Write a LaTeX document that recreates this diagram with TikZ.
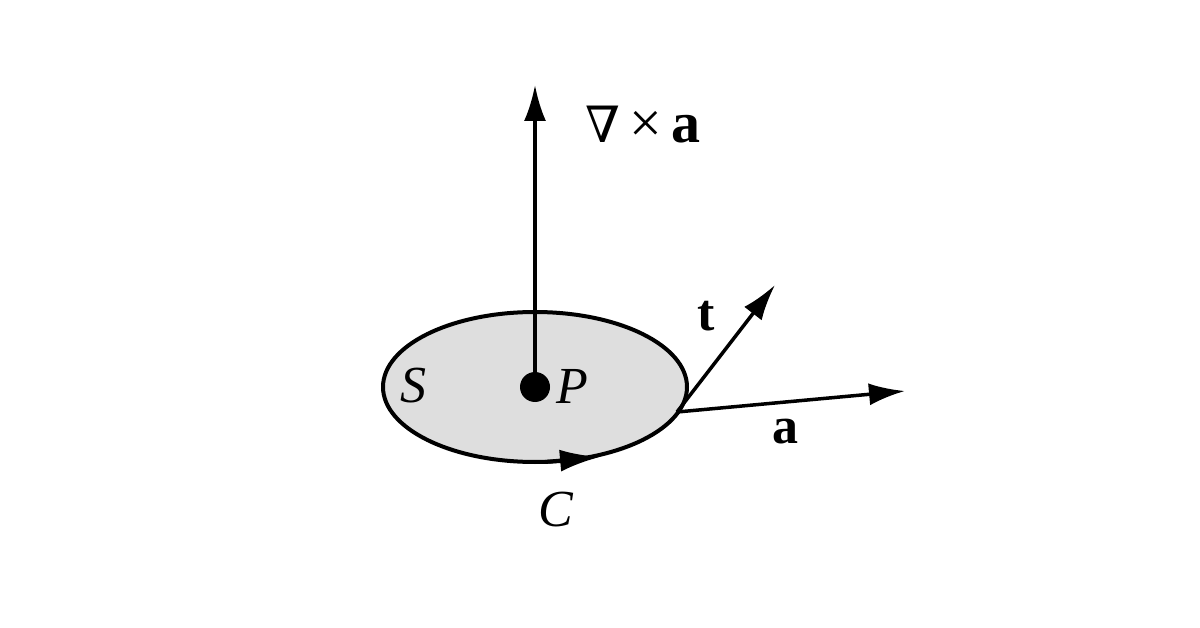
\documentclass[tikz,border=0pt]{standalone}
\usepackage{fontspec}
\setmainfont{Liberation Serif}
\newfontfamily\symfont{DejaVu Serif}
\usetikzlibrary{arrows.meta,shapes.geometric}
\begin{document}
\begin{tikzpicture}[x=1pt,y=-1pt,
  vec/.style={line width=3.5pt,-{Latex[length=36pt,width=22pt]}},
  lbl/.style={font=\fontsize{52}{58}\selectfont}]
\useasboundingbox (0,0) rectangle (1200,628);
\node[draw,line width=4pt,fill=black!13,ellipse,minimum width=304pt,minimum height=150pt,inner sep=0pt] (S) at (535,387) {};
\coordinate (P) at (535,387);
\coordinate (Q) at (677,412);
\coordinate (top) at (535,85);
\coordinate (tt) at (775,285);
\coordinate (ta) at (905,391);
\draw[vec] (P) -- (top);
\fill (P) circle (15);
\draw[vec] (Q) -- (tt);
\draw[vec] (Q) -- (ta);
\coordinate (c1) at (545,462);
\coordinate (c2) at (600,457);
\draw[line width=4pt,-{Latex[length=40pt,width=22pt]}] (c1) -- (c2);
\node[lbl,font=\fontsize{58}{64}\selectfont] (curl) at (643,125) {{\symfont\fontsize{50}{56}\selectfont ∇}\,×\,\textbf{a}};
\node[lbl] (lS) at (413,386) {\textit{S}};
\node[lbl] (lP) at (572,386) {\textit{P}};
\node[lbl] (lt) at (706,316) {\textbf{t}};
\node[lbl] (la) at (785,432) {\textbf{a}};
\node[lbl] (lC) at (556,510) {\textit{C}};
\end{tikzpicture}
\end{document}
